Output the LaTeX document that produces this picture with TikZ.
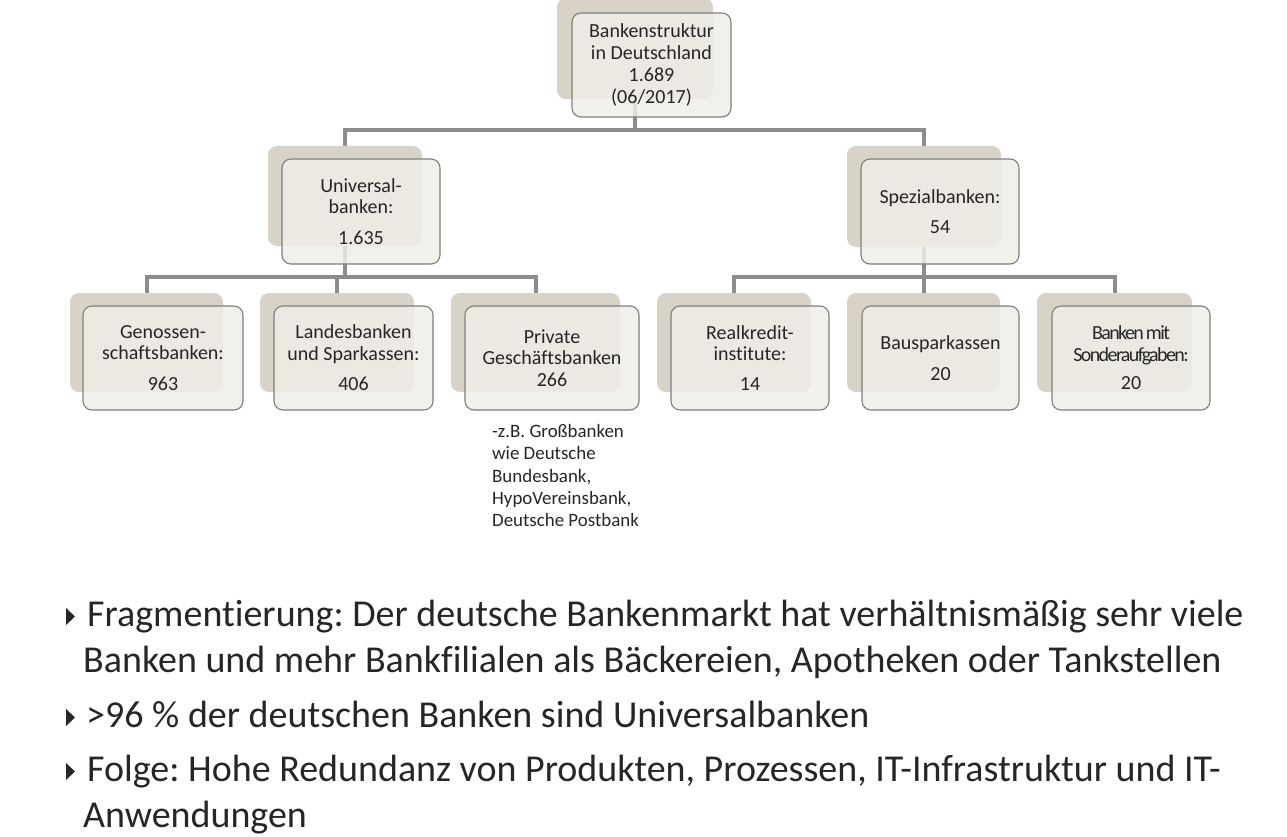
\documentclass[tikz,border=0pt]{standalone}
\usepackage{fontspec}
\setmainfont{Carlito}[Ligatures=NoCommon]
\newfontfamily\condfont{Carlito}[Ligatures=NoCommon,LetterSpace=-8,WordSpace=0.7]
\usetikzlibrary{backgrounds}
\definecolor{shadowc}{HTML}{D9D3C7}
\definecolor{frontc}{HTML}{EFEEE9}
\definecolor{borderc}{HTML}{7F7F7F}
\definecolor{connc}{HTML}{8C8C8C}
\definecolor{txt}{HTML}{262626}
\frenchspacing
\tikzset{
  shadowbox/.style={draw=none, fill=shadowc, rounded corners=9pt, inner sep=0pt,
    minimum width=154pt, minimum height=100pt},
  frontbox/.style={draw=borderc, line width=1.1pt, fill=frontc, fill opacity=0.82,
    text opacity=1, rounded corners=9pt, inner sep=0pt, align=center, text=txt,
    minimum width=158pt, minimum height=104pt,
    font=\fontsize{20}{21.5}\selectfont},
  conn/.style={draw=connc, line width=4pt},
  note/.style={text=txt, align=left, inner sep=0pt, font=\fontsize{18.9}{22.2}\selectfont},
  bullettext/.style={text=txt, align=left, inner sep=0pt, font=\fontsize{38}{46}\selectfont},
  bulletmark/.style={fill=txt}
}
\begin{document}
\begin{tikzpicture}[x=1pt,y=1pt]
\useasboundingbox (0,0) rectangle (1287,-837);

% shadow boxes
\node[shadowbox, minimum width=156pt, minimum height=101pt] (sTop) at (635,-48.5) {};
\node[shadowbox, minimum height=100pt] (sU) at (345,-196) {};
\node[shadowbox, minimum height=101pt] (sS) at (924,-196.5) {};
\node[shadowbox, minimum width=153pt, minimum height=99pt] (sGen) at (146.5,-342.5) {};
\node[shadowbox, minimum height=99pt] (sLand) at (337,-342.5) {};
\node[shadowbox, minimum width=169pt, minimum height=99pt] (sPriv) at (535.5,-342.5) {};
\node[shadowbox, minimum height=99pt] (sReal) at (734,-342.5) {};
\node[shadowbox, minimum width=153pt, minimum height=99pt] (sBau) at (923.5,-342.5) {};
\node[shadowbox, minimum width=155pt, minimum height=99pt] (sSond) at (1114.5,-342.5) {};

% connectors
\coordinate (barA) at (0,-130);
\coordinate (barB) at (0,-277);
\begin{pgfonlayer}{background}
\fill[white] (0,0) rectangle (1287,-837);
\draw[conn] (sTop.south) -- (sTop.south |- barA);
\draw[conn] (sU.north) -- (sU.north |- barA) -- (sS.north |- barA) -- (sS.north);
\draw[conn] (sU.south) -- (sU.south |- barB);
\draw[conn] (sGen.north) -- (sGen.north |- barB) -- (sPriv.north |- barB) -- (sPriv.north);
\draw[conn] (sLand.north) -- (sLand.north |- barB);
\draw[conn] (sS.south) -- (sS.south |- barB);
\draw[conn] (sReal.north) -- (sReal.north |- barB) -- (sSond.north |- barB) -- (sSond.north);
\draw[conn] (sBau.north) -- (sBau.north |- barB);
\end{pgfonlayer}

% front boxes
\node[frontbox, minimum width=159pt] (fTop) at (651.5,-65) {Bankenstruktur\\in Deutschland\\[1pt]1.689\\(06/2017)};
\node[frontbox, minimum height=105pt] (fU) at (361,-211.5) {Universal-\\banken:\\[9pt]1.635};
\node[frontbox, minimum height=105pt] (fS) at (940,-211.5) {Spezialbanken:\\[9pt]54};
\node[frontbox, minimum width=160pt] (fGen) at (163,-358) {Genossen-\\schaftsbanken:\\[9pt]963};
\node[frontbox, minimum width=159pt] (fLand) at (353.5,-358) {Landesbanken\\und Sparkassen:\\[9pt]406};
\node[frontbox, minimum width=174pt] (fPriv) at (552,-358) {Private\\Geschäftsbanken\\266};
\node[frontbox] (fReal) at (750,-358) {Realkredit-\\institute:\\[8pt]14};
\node[frontbox, minimum width=157pt] (fBau) at (940.5,-358) {Bausparkassen\\[10pt]20};
\node[frontbox] (fSond) at (1131,-358) {{\condfont Banken mit}\\{\condfont Sonderaufgaben:}\\[7pt]20};

% note under Private
\node[note, anchor=base west] (note) at (492,-526.5) {-z.B. Großbanken\\wie Deutsche\\Bundesbank,\\HypoVereinsbank,\\Deutsche Postbank};

% bullets
\fill[bulletmark] (66,-608) -- (66,-625) -- (75,-616.5) -- cycle;
\fill[bulletmark] (66,-709) -- (66,-726) -- (75,-717.5) -- cycle;
\fill[bulletmark] (66,-763) -- (66,-780) -- (75,-771.5) -- cycle;
\node[bullettext, anchor=base west] (b1) at (83,-672) {\hspace*{4pt}Fragmentierung: Der deutsche Bankenmarkt hat verhältnismäßig sehr viele\\Banken und mehr Bankfilialen als Bäckereien, Apotheken oder Tankstellen};
\node[bullettext, anchor=base west] (b2) at (86,-727) {>96 \% der deutschen Banken sind Universalbanken};
\node[bullettext, anchor=base west] (b3) at (83,-827) {\hspace*{4pt}Folge: Hohe Redundanz von Produkten, Prozessen, IT-Infrastruktur und IT-\\Anwendungen};
\end{tikzpicture}
\end{document}
